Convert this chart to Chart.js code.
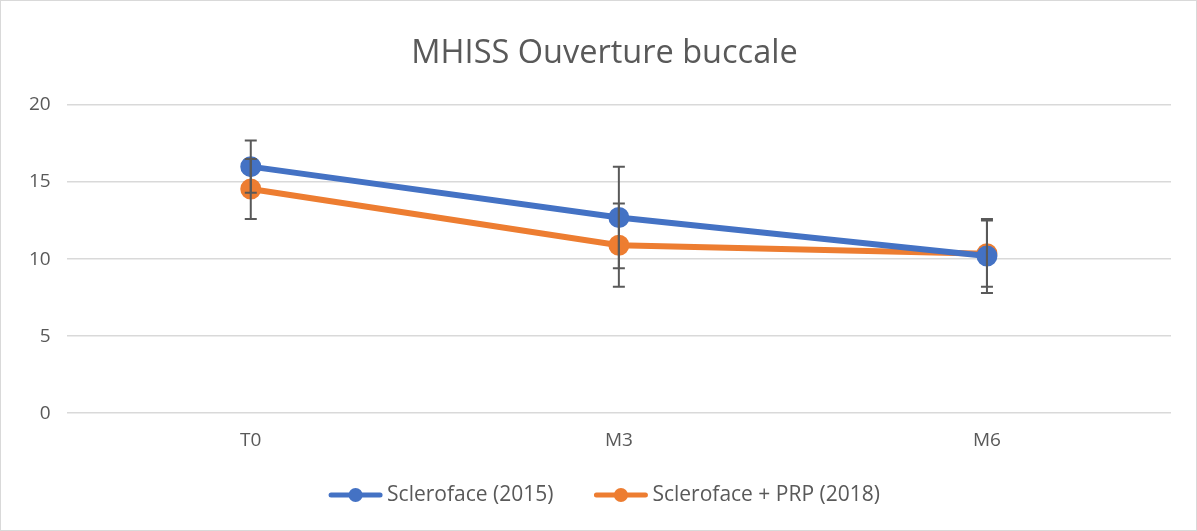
<!DOCTYPE html>
<html>
<head>
<meta charset="utf-8">
<script src="https://cdn.jsdelivr.net/npm/chart.js@4"></script>
<style>
  html, body { margin: 0; padding: 0; background: #fff; }
  #wrap { width: 1195px; height: 529px; border: 1px solid #d9d9d9; }
</style>
</head>
<body>
<div id="wrap"><canvas id="myChart" width="1195" height="529"></canvas></div>
<script>
// données
const categories = ['T0', 'M3', 'M6'];
const seriesNames = ['Scleroface (2015)', 'Scleroface + PRP (2018)'];
const sclerofaceValues = [16.0, 12.7, 10.2];
const sclerofaceErrors = [1.7, 3.3, 2.4];
const prpValues = [14.55, 10.9, 10.35];
const prpErrors = [1.95, 2.7, 2.15];
const yTicks = [0, 5, 10, 15, 20];

const blue = '#4472C4';
const orange = '#ED7D31';
const textColor = '#595959';
const fontFamily = "'Open Sans', 'Noto Sans', sans-serif";

// barres d'erreur dessinées avec les échelles du graphique
const errorBars = {
  id: 'errorBars',
  afterDatasetsDraw(chart) {
    const ctx = chart.ctx;
    const y = chart.scales.y;
    ctx.save();
    ctx.strokeStyle = '#595959';
    ctx.lineWidth = 2;
    chart.data.datasets.forEach((ds, i) => {
      const meta = chart.getDatasetMeta(i);
      meta.data.forEach((pt, j) => {
        const v = ds.data[j], e = ds.errors[j];
        const top = y.getPixelForValue(v + e);
        const bot = y.getPixelForValue(v - e);
        const x = pt.x;
        ctx.beginPath();
        ctx.moveTo(x, top); ctx.lineTo(x, bot);
        ctx.moveTo(x - 6, top); ctx.lineTo(x + 6, top);
        ctx.moveTo(x - 6, bot); ctx.lineTo(x + 6, bot);
        ctx.stroke();
      });
    });
    ctx.restore();
  }
};

// légende façon Excel : trait + point, puis le texte
const lineLegend = {
  id: 'lineLegend',
  afterDraw(chart) {
    const ctx = chart.ctx;
    const iconW = 53, gap = 5, itemGap = 41;
    ctx.save();
    ctx.font = `21px ${fontFamily}`;
    ctx.textBaseline = 'middle';
    const items = chart.data.datasets.map(ds => ({
      color: ds.borderColor, text: ds.label, w: ctx.measureText(ds.label).width
    }));
    const total = items.reduce((s, it) => s + iconW + gap + it.w, 0) + itemGap * (items.length - 1);
    let x = chart.width / 2 + 6 - total / 2;
    const y = 494;
    items.forEach(it => {
      ctx.strokeStyle = it.color;
      ctx.lineWidth = 5;
      ctx.lineCap = 'round';
      ctx.beginPath(); ctx.moveTo(x + 2, y); ctx.lineTo(x + iconW - 2, y); ctx.stroke();
      ctx.fillStyle = it.color;
      ctx.beginPath(); ctx.arc(x + iconW / 2, y, 7, 0, Math.PI * 2); ctx.fill();
      ctx.fillStyle = textColor;
      ctx.fillText(it.text, x + iconW + gap, y);
      x += iconW + gap + it.w + itemGap;
    });
    ctx.restore();
  }
};

const ctx = document.getElementById('myChart').getContext('2d');

new Chart(ctx, {
  type: 'line',
  data: {
    labels: categories,
    datasets: [
      {
        label: seriesNames[0],
        data: sclerofaceValues,
        errors: sclerofaceErrors,
        borderColor: blue,
        backgroundColor: blue,
        borderWidth: 6,
        pointRadius: 7.5,
        pointHoverRadius: 7.5,
        tension: 0
      },
      {
        label: seriesNames[1],
        data: prpValues,
        errors: prpErrors,
        borderColor: orange,
        backgroundColor: orange,
        borderWidth: 6,
        pointRadius: 7.5,
        pointHoverRadius: 7.5,
        tension: 0
      }
    ]
  },
  options: {
    responsive: false,
    animation: false,
    layout: { padding: { left: 12, right: 0, top: 10, bottom: 70 } },
    scales: {
      x: {
        offset: true,
        grid: { display: false },
        border: { display: false },
        ticks: { color: textColor, font: { family: fontFamily, size: 19 }, padding: 8 }
      },
      y: {
        min: 0,
        max: 20,
        afterBuildTicks(axis) { axis.ticks = yTicks.map(v => ({ value: v })); },
        grid: { color: '#d9d9d9', lineWidth: 1.5, drawTicks: false },
        border: { display: false },
        ticks: { color: textColor, font: { family: fontFamily, size: 19 }, padding: 16 }
      },
      // marge vide à droite, pour garder le titre centré sur la toile
      yRight: {
        position: 'right',
        grid: { display: false },
        border: { display: false },
        ticks: { display: false },
        afterFit(axis) { axis.width = 25; }
      }
    },
    plugins: {
      title: {
        display: true,
        text: 'MHISS Ouverture buccale',
        color: textColor,
        font: { family: fontFamily, size: 32.5, weight: 'normal' },
        padding: { top: 23, bottom: 32 }
      },
      legend: { display: false },
      tooltip: { enabled: false }
    }
  },
  plugins: [errorBars, lineLegend]
});
</script>
</body>
</html>
